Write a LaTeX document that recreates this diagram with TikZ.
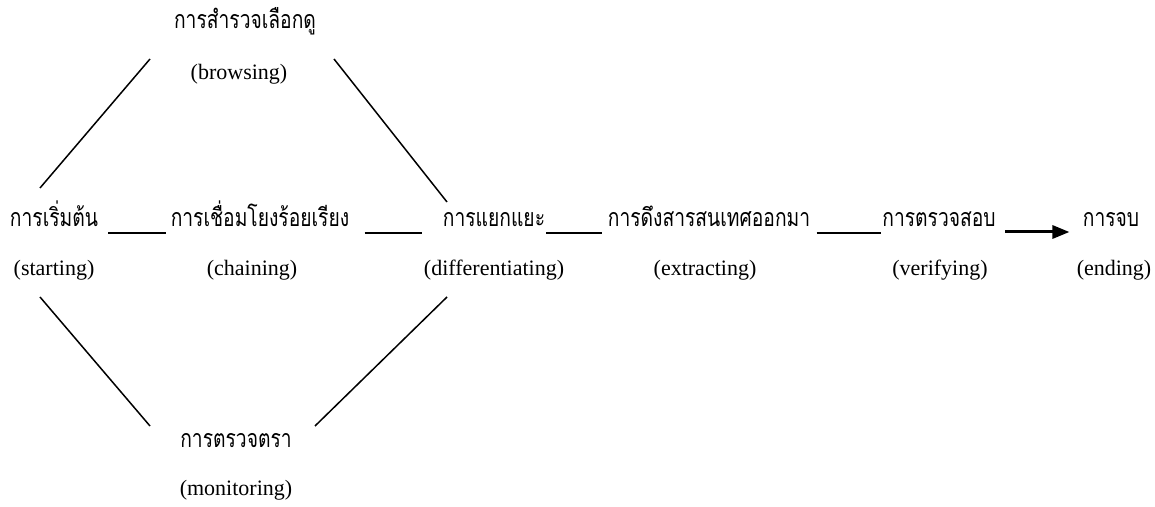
\documentclass[tikz,border=0pt]{standalone}
\usepackage{fontspec}
\setmainfont{Liberation Serif}
\newfontfamily\thaifont[Script=Thai,FakeStretch=0.77]{Loma}
\usetikzlibrary{arrows.meta}

\begin{document}
\begin{tikzpicture}[x=0.5pt,y=-0.5pt,
  th/.style={font=\thaifont\fontsize{12.5}{14}\selectfont,inner sep=0pt,anchor=base},
  en/.style={font=\fontsize{11}{13}\selectfont,inner sep=0pt,anchor=base},
  link/.style={line width=1pt},
  diag/.style={line width=0.75pt}]
\useasboundingbox (0,0) rectangle (1155,507);

\path (245,29) node[th] (browse) {การสำรวจเลือกดู};
\path (239,80) node[en] (browseEn) {(browsing)};

\path (54,227) node[th] (start) {การเริ่มต้น};
\path (260,227) node[th] (chain) {การเชื่อมโยงร้อยเรียง};
\path (494,227) node[th] (diff) {การแยกแยะ};
\path (709,227) node[th] (extract) {การดึงสารสนเทศออกมา};
\path (939,227) node[th] (verify) {การตรวจสอบ};
\path (1111,227) node[th] (ending) {การจบ};

\path (54,276) node[en] (startEn) {(starting)};
\path (252,276) node[en] (chainEn) {(chaining)};
\path (494,276) node[en] (diffEn) {(differentiating)};
\path (705,276) node[en] (extractEn) {(extracting)};
\path (940,276) node[en] (verifyEn) {(verifying)};
\path (1114,276) node[en] (endingEn) {(ending)};

\path (236,447) node[th] (monitor) {การตรวจตรา};
\path (236,495) node[en] (monitorEn) {(monitoring)};

\coordinate (ulTop) at (150,59);
\coordinate (ulBot) at (40,188);
\coordinate (urTop) at (334,59);
\coordinate (urBot) at (447,202);
\coordinate (llTop) at (40,297);
\coordinate (llBot) at (150,426);
\coordinate (lrTop) at (447,297);
\coordinate (lrBot) at (315,426);

\draw[diag] (ulTop) -- (ulBot);
\draw[diag] (urTop) -- (urBot);
\draw[diag] (llTop) -- (llBot);
\draw[diag] (lrTop) -- (lrBot);

\draw[link] ([xshift=5pt,yshift=-3pt]start.base east) -- ([xshift=-2pt,yshift=-3pt]chain.base west);
\draw[link] ([xshift=7.5pt,yshift=-3pt]chain.base east) -- ([xshift=-10.5pt,yshift=-3pt]diff.base west);
\draw[link] ([xshift=0.5pt,yshift=-3pt]diff.base east) -- ([xshift=-2.5pt,yshift=-3pt]extract.base west);
\draw[link] ([xshift=3pt,yshift=-3pt]extract.base east) -- ([xshift=-0.5pt,yshift=-3pt]verify.base west);
\draw[line width=1.5pt,-{Triangle[length=8.5pt,width=6.5pt]}] ([xshift=4.5pt,yshift=-2.5pt]verify.base east) -- ([xshift=-6.5pt,yshift=-2.5pt]ending.base west);
\end{tikzpicture}
\end{document}
